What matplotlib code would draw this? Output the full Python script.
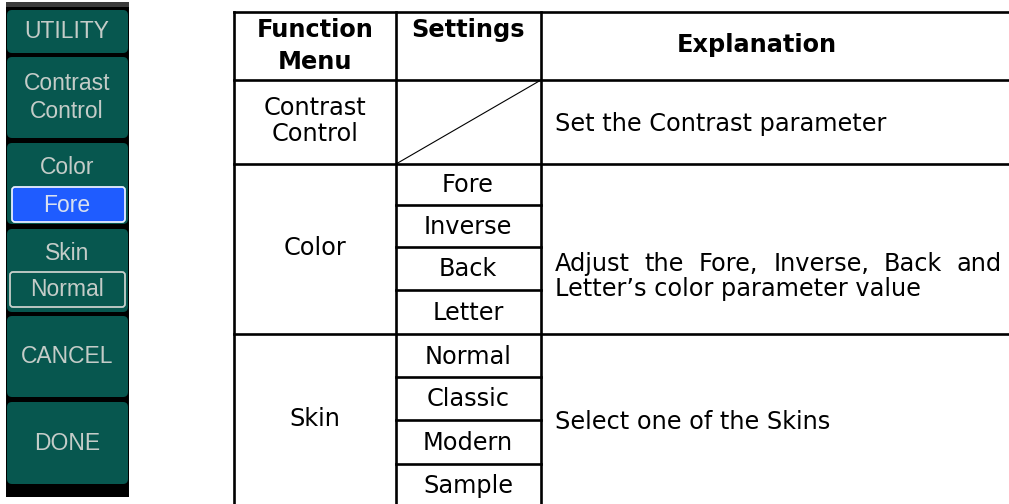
import matplotlib
matplotlib.use('Agg')
import matplotlib.pyplot as plt
from matplotlib.patches import FancyBboxPatch, Rectangle

# table content
headers = ['Function\nMenu', 'Settings', 'Explanation']
func_menu = ['Contrast\nControl', 'Color', 'Skin']
color_settings = ['Fore', 'Inverse', 'Back', 'Letter']
skin_settings = ['Normal', 'Classic', 'Modern', 'Sample']
expl_contrast = 'Set the Contrast parameter'
expl_color = ['Adjust the Fore, Inverse, Back and', "Letter\u2019s color parameter value"]
expl_skin = 'Select one of the Skins'

# soft key menu on the left
keys = ['UTILITY', 'Contrast\nControl', 'Color', 'Skin', 'CANCEL', 'DONE']
key_values = [None, None, 'Fore', 'Normal', None, None]

W, H = 1009, 504
fig = plt.figure(figsize=(W/100., H/100.), dpi=100)
ax = fig.add_axes([0, 0, 1, 1])
ax.set_xlim(0, W)
ax.set_ylim(H, 0)
ax.axis('off')

FS = 17.3
LW = 1.9

#%% left menu
teal = '#07574f'
txtc = '#c4ccc8'
ax.add_patch(Rectangle((6, 2), 123, 5, color='#3c3c3c', lw=0))
ax.add_patch(Rectangle((6, 7), 123, 490, color='black', lw=0))
key_y = [(10, 53), (57, 138), (143, 224), (229, 312), (316, 397), (402, 484)]
for name, val, (y0, y1) in zip(keys, key_values, key_y):
    ax.add_patch(FancyBboxPatch((7, y0), 121, y1-y0, boxstyle='round,pad=0,rounding_size=5',
                                fc=teal, ec='none'))
    if val is None:
        lines = name.split('\n')
        yc = (y0+y1)/2.
        for i, l in enumerate(lines):
            ax.text(67, yc + (i-(len(lines)-1)/2.)*28, l, ha='center', va='center',
                    family='Liberation Sans', fontsize=16.5, color=txtc)
    else:
        ax.text(67, y0+24, name, ha='center', va='center', family='Liberation Sans',
                fontsize=16.5, color=txtc)
        if val == 'Fore':
            fc, ec = '#1f5cff', '#e8eeff'
            bx = (12, y0+44, 113, 35)
        else:
            fc, ec = teal, '#c8d0cc'
            bx = (10, y0+43, 115, 35)
        ax.add_patch(FancyBboxPatch(bx[:2], bx[2], bx[3], boxstyle='round,pad=0,rounding_size=3',
                                    fc=fc, ec=ec, lw=1.3))
        ax.text(67, bx[1]+18, val, ha='center', va='center', family='Liberation Sans',
                fontsize=16.5, color=txtc if val != 'Fore' else '#d8e0f0')

#%% table grid
xs = [234, 396, 541, W]
def hline(y, x0, x1):
    ax.plot([x0, x1], [y, y], color='black', lw=LW, solid_capstyle='projecting')
def vline(x, y0, y1):
    ax.plot([x, x], [y0, y1], color='black', lw=LW, solid_capstyle='projecting')

for y in [12, 80, 164, 334]:
    hline(y, xs[0], xs[3])
for y in [205, 247, 290, 377, 420, 464]:
    hline(y, xs[1], xs[2])
for x in xs[:3]:
    vline(x, 12, H+5)
ax.plot([xs[1], xs[2]], [164, 80], color='black', lw=0.8)

#%% text
def multiline(x, yc, s, step, **kw):
    lines = s.split('\n')
    for i, l in enumerate(lines):
        ax.text(x, yc + (i-(len(lines)-1)/2.)*step, l, ha='center', va='center',
                fontsize=FS, **kw)

multiline(315, 46, headers[0], 32, weight='bold')
ax.text(468, 30, headers[1], ha='center', va='center', fontsize=FS, weight='bold')
ax.text(757, 45, headers[2], ha='center', va='center', fontsize=FS, weight='bold')

grp = [(80, 164), (164, 334), (334, 507)]
for name, (y0, y1) in zip(func_menu, grp):
    multiline(315, (y0+y1)/2. - 1, name, 26)

color_rows = [164, 205, 247, 290, 334]
skin_rows = [334, 377, 420, 464, 507]
for lab, y0, y1 in zip(color_settings, color_rows[:-1], color_rows[1:]):
    ax.text(468, (y0+y1)/2. + 1, lab, ha='center', va='center', fontsize=FS)
for lab, y0, y1 in zip(skin_settings, skin_rows[:-1], skin_rows[1:]):
    ax.text(468, (y0+y1)/2. + 1, lab, ha='center', va='center', fontsize=FS)

ax.text(555, 124, expl_contrast, ha='left', va='center', fontsize=FS)
ax.text(555, 422, expl_skin, ha='left', va='center', fontsize=FS)

# justified first line of the colour explanation
r = fig.canvas.get_renderer()
words = expl_color[0].split()
ts = [ax.text(0, 264, w, ha='left', va='center', fontsize=FS) for w in words]
ws = [t.get_window_extent(r).width for t in ts]
gap = (1002 - 555 - sum(ws)) / (len(words)-1)
x = 555
for t, w in zip(ts, ws):
    t.set_x(x)
    x += w + gap
ax.text(555, 289, expl_color[1], ha='left', va='center', fontsize=FS)

fig.savefig('out.png', dpi=100)
